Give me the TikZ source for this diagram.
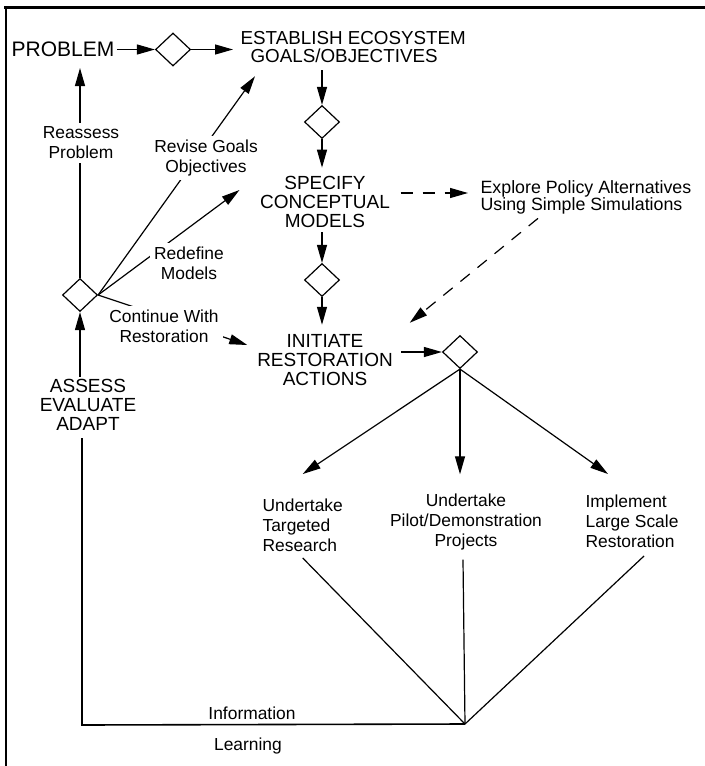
\documentclass[tikz,border=0pt]{standalone}
\usepackage{fontspec}
\setmainfont{Liberation Sans}
\usetikzlibrary{arrows.meta,shapes.geometric}
\begin{document}
\begin{tikzpicture}[x=0.5pt,y=-0.5pt,line width=0.6pt,
  arr/.style={-{Triangle[length=9pt,width=5pt]}},
  dsh/.style={dash pattern=on 6pt off 5pt},
  dia/.style={draw,shape=diamond,minimum width=17.5pt,minimum height=16.5pt,inner sep=0pt},
  caps/.style={font=\fontsize{9.5}{9.5}\selectfont,align=center,inner sep=0pt},
  txt/.style={font=\fontsize{8.7}{10}\selectfont,align=center,inner sep=0pt},
  lbl/.style={txt,fill=white,inner sep=2pt}]
\useasboundingbox (0,0) rectangle (705,766);
% frame
\draw[line width=1.4pt] (4,7.5) -- (705,7.5);
\draw[line width=1.3pt] (6,6.8) -- (6,766);
% nodes
\node[font=\fontsize{10.5}{12}\selectfont,inner sep=1pt] (prob) at (63,49.5) {PROBLEM};
\node[dia] (d1) at (173,49.5) {};
\node[caps,align=left,anchor=west,font=\fontsize{9.4}{9}\selectfont] (est) at (240,47) {ESTABLISH ECOSYSTEM\\\hspace*{5pt}GOALS/OBJECTIVES};
\node[dia] (d2) at (322,122) {};
\node[caps] (spec) at (325,202) {SPECIFY\\CONCEPTUAL\\MODELS};
\node[txt,align=left,anchor=west,font=\fontsize{8.9}{8.5}\selectfont] (expl) at (480,197) {Explore Policy Alternatives\\Using Simple Simulations};
\node[dia] (d3) at (322,280) {};
\node[caps] (init) at (325,360) {INITIATE\\RESTORATION\\ACTIONS};
\node[dia] (d4) at (460,352) {};
\node[txt,align=left,anchor=west] (r1) at (262,525) {Undertake\\Targeted\\Research};
\node[txt] (r2) at (466,522) {Undertake\\Pilot/Demonstration\\Projects};
\node[txt,align=left,anchor=west] (r3) at (585,521) {Implement\\Large Scale\\Restoration};
\node[dia] (d5) at (80,295) {};
\node[caps] (ass) at (88,405) {ASSESS\\EVALUATE\\ADAPT};
\coordinate (v) at (465,724);
\coordinate (corner) at (82,725);
\coordinate (sE) at ([yshift=4.5pt]spec.east);
\coordinate (assB) at ([yshift=-3.5pt]ass.south);
% connectors
\draw[arr] (prob.east) -- (d1.west);
\draw[arr,shorten >=3.5pt] (d1.east) -- (d1.east -| est.west);
\draw[arr,shorten <=3.6pt] (d2.north |- est.south) -- (d2.north);
\draw[arr,shorten >=4pt] (d2.south) -- (d2.south |- spec.north);
\draw[arr,dsh,shorten <=5pt,shorten >=6pt] (sE) -- (sE -| expl.west);
\draw[arr,dsh] ([xshift=-24pt,yshift=-2pt]expl.south) -- ([xshift=8.2pt,yshift=5.5pt]init.north east);
\draw[arr,shorten <=2pt] (d3.north |- spec.south) -- (d3.north);
\draw[arr,shorten >=4.5pt] (d3.south) -- (d3.south |- init.north);
\draw[arr,shorten <=4pt] (init.east |- d4.west) -- (d4.west);
\draw[arr] (d4.south) -- ([yshift=12pt]r1.north);
\draw[arr,shorten >=9.5pt] (d4.south) -- (d4.south |- r2.north);
\draw[arr] (d4.south) -- ([xshift=-12pt,yshift=10pt]r3.north);
\draw ([yshift=-3pt]r1.south) -- (v);
\draw ([xshift=-1.5pt,yshift=-4.5pt]r2.south) -- (v);
\draw ([xshift=6pt,yshift=-4pt]r3.south) -- (v);
\draw[line width=0.8pt] (v) -- (corner) -- (assB -| corner);
\draw[arr,shorten <=1pt] (d5.south |- ass.north) -- (d5.south);
\draw[arr,shorten >=4.25pt] (d5.north) -- (d5.north |- prob.south);
\draw[arr] (d5.east) -- ([xshift=7.5pt,yshift=-6.5pt]est.south west);
\draw[arr] (d5.east) -- ([xshift=-10pt,yshift=6pt]spec.west);
\draw[arr] (d5.east) -- ([xshift=-4.7pt,yshift=7.5pt]init.west);
% labels on connectors
\node[lbl] (reass) at (81,143) {Reassess\\Problem};
\node[lbl] (revise) at (206,158) {Revise Goals\\Objectives};
\node[lbl] (redef) at (189,263) {Redefine\\Models};
\node[lbl] (cont) at (164,326) {Continue With\\Restoration};
\node[txt] (info) at (252,713) {Information};
\node[txt] (learn) at (248,746) {Learning};
\end{tikzpicture}
\end{document}
